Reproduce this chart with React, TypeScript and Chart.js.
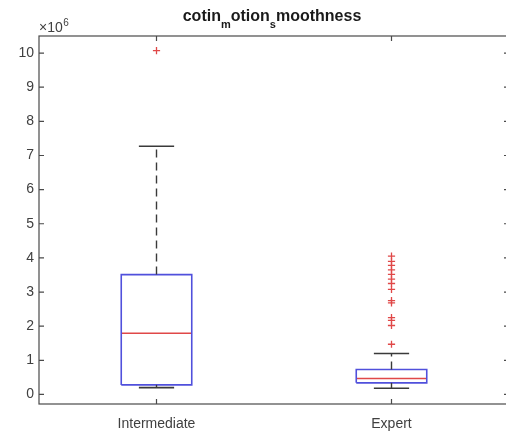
import React, { useEffect, useRef } from 'react';
import { Chart, registerables } from 'chart.js';

Chart.register(...registerables);

// ---- data (values in raw units; axis shows ×10^6) ----
const categories = ['Intermediate', 'Expert'];
const positions = [1, 2];
const lowerWhisker = [200000, 180000];
const q1 = [280000, 340000];
const medians = [1790000, 470000];
const q3 = [3510000, 730000];
const upperWhisker = [7270000, 1200000];
const outliersIntermediate = [10070000];
const outliersExpert = [
  4050000, 3900000, 3780000, 3650000, 3520000, 3380000, 3250000, 3080000,
  2750000, 2680000, 2250000, 2170000, 2020000, 1470000,
];
const yTickValues = [0, 1e6, 2e6, 3e6, 4e6, 5e6, 6e6, 7e6, 8e6, 9e6, 10e6];
const yTickLabels = ['0', '1', '2', '3', '4', '5', '6', '7', '8', '9', '10'];
const titleParts = [
  { text: 'cotin', sub: false },
  { text: 'm', sub: true },
  { text: 'otion', sub: false },
  { text: 's', sub: true },
  { text: 'moothness', sub: false },
];

const BOX_HALF = 0.15;
const CAP_HALF = 0.075;
const FONT = '"Liberation Sans", Arial, Helvetica, sans-serif';
const AXIS_COLOR = '#4a4a4a';
const TEXT_COLOR = '#404040';
const WHISKER = '#3a3a3a';
const BLUE = '#5050dc';
const RED = '#e04848';

function buildDatasets() {
  const ds: any[] = [];
  const line = (data: any[], color: string, dash: number[] = [], width = 1.4) => ({
    type: 'scatter',
    data,
    showLine: true,
    borderColor: color,
    backgroundColor: color,
    borderWidth: width,
    borderDash: dash,
    pointRadius: 0,
    fill: false,
  });
  positions.forEach((p, i) => {
    ds.push(line([{ x: p, y: q3[i] }, { x: p, y: upperWhisker[i] }], WHISKER, [8, 5]));
    ds.push(line([{ x: p, y: q1[i] }, { x: p, y: lowerWhisker[i] }], WHISKER, [8, 5]));
    ds.push(line([{ x: p - CAP_HALF, y: upperWhisker[i] }, { x: p + CAP_HALF, y: upperWhisker[i] }], WHISKER, [], 1.6));
    ds.push(line([{ x: p - CAP_HALF, y: lowerWhisker[i] }, { x: p + CAP_HALF, y: lowerWhisker[i] }], WHISKER, [], 1.6));
    ds.push(
      line(
        [
          { x: p - BOX_HALF, y: q1[i] },
          { x: p + BOX_HALF, y: q1[i] },
          { x: p + BOX_HALF, y: q3[i] },
          { x: p - BOX_HALF, y: q3[i] },
          { x: p - BOX_HALF, y: q1[i] },
        ],
        BLUE,
        [],
        1.6
      )
    );
    ds.push(line([{ x: p - BOX_HALF, y: medians[i] }, { x: p + BOX_HALF, y: medians[i] }], RED, [], 1.5));
  });
  const outlierSets = [outliersIntermediate, outliersExpert];
  outlierSets.forEach((vals, i) => {
    ds.push({
      type: 'scatter',
      data: vals.map((v) => ({ x: positions[i], y: v })),
      pointStyle: 'cross',
      pointRadius: 3.6,
      borderColor: RED,
      backgroundColor: RED,
      borderWidth: 1.3,
      showLine: false,
    });
  });
  return ds;
}

const framePlugin = {
  id: 'matlabFrame',
  afterDraw(chart: any) {
    const { ctx, chartArea } = chart;
    const { left, right, top, bottom } = chartArea;
    const xs = chart.scales.x;
    const ys = chart.scales.y;
    ctx.save();
    ctx.strokeStyle = AXIS_COLOR;
    ctx.lineWidth = 1.2;
    ctx.strokeRect(left, top, right - left, bottom - top);
    const tl = 5;
    ctx.beginPath();
    yTickValues.forEach((v) => {
      const y = ys.getPixelForValue(v);
      ctx.moveTo(left, y);
      ctx.lineTo(left + tl, y);
      ctx.moveTo(right, y);
      ctx.lineTo(right - tl, y);
    });
    positions.forEach((p) => {
      const x = xs.getPixelForValue(p);
      ctx.moveTo(x, bottom);
      ctx.lineTo(x, bottom - tl);
      ctx.moveTo(x, top);
      ctx.lineTo(x, top + tl);
    });
    ctx.stroke();

    // exponent label
    ctx.fillStyle = TEXT_COLOR;
    ctx.textBaseline = 'alphabetic';
    ctx.textAlign = 'left';
    ctx.font = `14px ${FONT}`;
    const base = '\u00d710';
    ctx.fillText(base, left, top - 4);
    const bw = ctx.measureText(base).width;
    ctx.font = `10px ${FONT}`;
    ctx.fillText('6', left + bw + 0.5, top - 10);

    // title with subscripts
    const mainFont = `bold 16px ${FONT}`;
    const subFont = `bold 11px ${FONT}`;
    let total = 0;
    const widths = titleParts.map((pt) => {
      ctx.font = pt.sub ? subFont : mainFont;
      const w = ctx.measureText(pt.text).width;
      total += w;
      return w;
    });
    let x = (left + right) / 2 - total / 2 - 2;
    ctx.fillStyle = '#1a1a1a';
    titleParts.forEach((pt, i) => {
      ctx.font = pt.sub ? subFont : mainFont;
      ctx.fillText(pt.text, x, pt.sub ? 28 : 21);
      x += widths[i];
    });
    ctx.restore();
  },
};

export default function App() {
  const ref = useRef<HTMLCanvasElement | null>(null);
  useEffect(() => {
    if (!ref.current) return;
    const chart = new Chart(ref.current, {
      type: 'scatter',
      data: { datasets: buildDatasets() },
      options: {
        animation: false,
        responsive: false,
        devicePixelRatio: 1,
        layout: { padding: { top: 36, right: 11, left: 0, bottom: 0 } },
        plugins: {
          legend: { display: false },
          tooltip: { enabled: false },
          title: { display: false },
        },
        scales: {
          x: {
            type: 'linear',
            min: 0.5,
            max: 2.5,
            afterBuildTicks: (s: any) => {
              s.ticks = positions.map((v) => ({ value: v }));
            },
            afterFit: (s: any) => {
              s.height = 29;
            },
            ticks: {
              callback: (v: any) => categories[positions.indexOf(Number(v))] ?? '',
              font: { family: FONT, size: 14 },
              color: TEXT_COLOR,
              padding: 12,
              maxRotation: 0,
              autoSkip: false,
            },
            grid: { display: false, drawTicks: false },
            border: { display: false },
          },
          y: {
            type: 'linear',
            min: -280000,
            max: 10500000,
            afterBuildTicks: (s: any) => {
              s.ticks = yTickValues.map((v) => ({ value: v }));
            },
            afterFit: (s: any) => {
              s.width = 39;
            },
            ticks: {
              callback: (v: any) => yTickLabels[yTickValues.indexOf(Number(v))] ?? '',
              font: { family: FONT, size: 14 },
              color: TEXT_COLOR,
              padding: 5,
              autoSkip: false,
            },
            grid: { display: false, drawTicks: false },
            border: { display: false },
          },
        },
      } as any,
      plugins: [framePlugin],
    });
    return () => chart.destroy();
  }, []);
  return (
    <div
      style={{
        position: 'fixed',
        left: 0,
        top: 0,
        width: 506,
        height: 433,
        overflow: 'hidden',
        background: '#ffffff',
      }}
    >
      <canvas ref={ref} width={520} height={433} style={{ display: 'block' }} />
    </div>
  );
}
